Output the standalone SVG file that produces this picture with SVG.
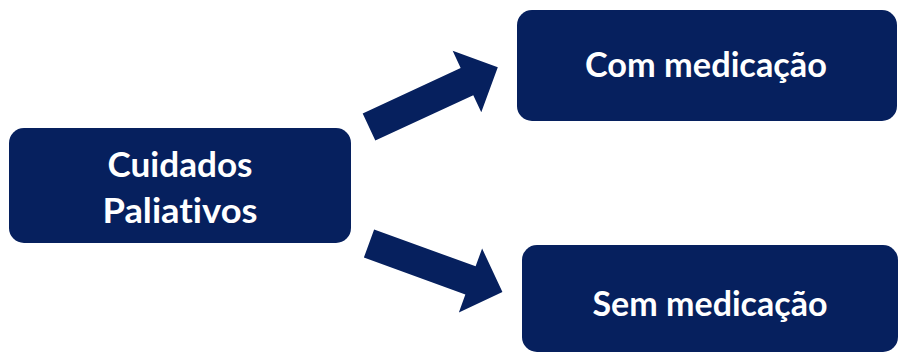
<svg xmlns="http://www.w3.org/2000/svg" width="899" height="354" viewBox="0 0 899 354">
<style>
.box{fill:#06205e}
.arrow{fill:#06205e}
.lbl{fill:#ffffff;font-family:Lato,"Open Sans","Liberation Sans",sans-serif;font-weight:bold;font-size:34px;text-anchor:middle;font-variant-ligatures:none;font-feature-settings:"liga" 0}
</style>
<rect width="899" height="354" fill="#ffffff"/>
<g id="connectors">
<polygon class="arrow" transform="translate(369,127) rotate(-24.9)" points="0,-15 108,-15 108,-34 142,0 108,34 108,15 0,15"/>
<polygon class="arrow" transform="translate(369,243.5) rotate(20)" points="0,-15 108,-15 108,-34 142,0 108,34 108,15 0,15"/>
</g>
<g id="node-cuidados">
<rect class="box" x="9" y="128" width="342" height="115" rx="15"/>
<text class="lbl" x="180" y="177" textLength="145" lengthAdjust="spacingAndGlyphs">Cuidados</text>
<text class="lbl" x="180" y="223" textLength="155" lengthAdjust="spacingAndGlyphs">Paliativos</text>
</g>
<g id="node-com">
<rect class="box" x="517" y="10" width="380" height="111" rx="15"/>
<text class="lbl" x="706" y="77" textLength="242" lengthAdjust="spacingAndGlyphs">Com medicação</text>
</g>
<g id="node-sem">
<rect class="box" x="522" y="245" width="376" height="107" rx="15"/>
<text class="lbl" x="710" y="316" textLength="235" lengthAdjust="spacingAndGlyphs">Sem medicação</text>
</g>
</svg>
